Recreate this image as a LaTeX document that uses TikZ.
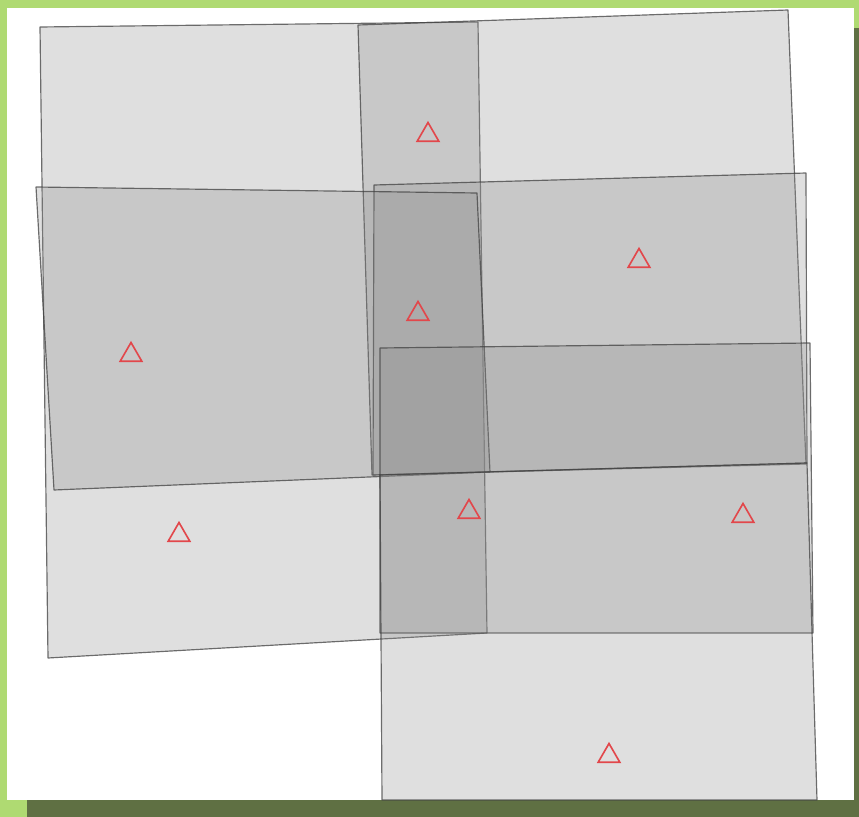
\documentclass[tikz,border=0pt]{standalone}
\usepackage{tikz}
\usepackage{xcolor}
\usetikzlibrary{shapes.geometric}
\definecolor{framec}{HTML}{AFDA72}
\definecolor{shadec}{HTML}{5F7043}
\definecolor{footc}{HTML}{8D8D8D}
\definecolor{markc}{HTML}{E2474B}
\tikzset{
  footprint/.style={fill=footc, fill opacity=0.28, draw=black!75, draw opacity=0.75, line width=1pt, line join=round},
  camera/.style={regular polygon, regular polygon sides=3, draw=markc, line width=1.4pt, inner sep=0pt, minimum size=0.75cm},
}

\begin{document}
\begin{tikzpicture}[x=0.03cm, y=-0.03cm]
\fill[framec] (0,0) rectangle (859,817);
\fill[shadec] (27,800) rectangle (859,817);
\fill[shadec] (854,28) rectangle (859,817);
\fill[white] (7,8) rectangle (854,800);
% footprints
\filldraw[footprint] (40,27) -- (478,22) -- (487,633) -- (48,658) -- cycle;
\filldraw[footprint] (358,25) -- (788,10) -- (806,464) -- (372,475) -- cycle;
\filldraw[footprint] (374,185) -- (806,173) -- (807,463) -- (373,475) -- cycle;
\filldraw[footprint] (36,187) -- (477,193) -- (490,472) -- (54,490) -- cycle;
\filldraw[footprint] (380,348) -- (810,343) -- (813,633) -- (380,633) -- cycle;
\filldraw[footprint] (380,475) -- (807,463) -- (817,800) -- (382,800) -- cycle;
% cameras
\node[camera] (cam1) at (428,135) {};
\node[camera] (cam2) at (639,261) {};
\node[camera] (cam3) at (131,355) {};
\node[camera] (cam4) at (418,314) {};
\node[camera] (cam5) at (179,535) {};
\node[camera] (cam6) at (469,512) {};
\node[camera] (cam7) at (743,516) {};
\node[camera] (cam8) at (609,756) {};
\end{tikzpicture}
\end{document}
